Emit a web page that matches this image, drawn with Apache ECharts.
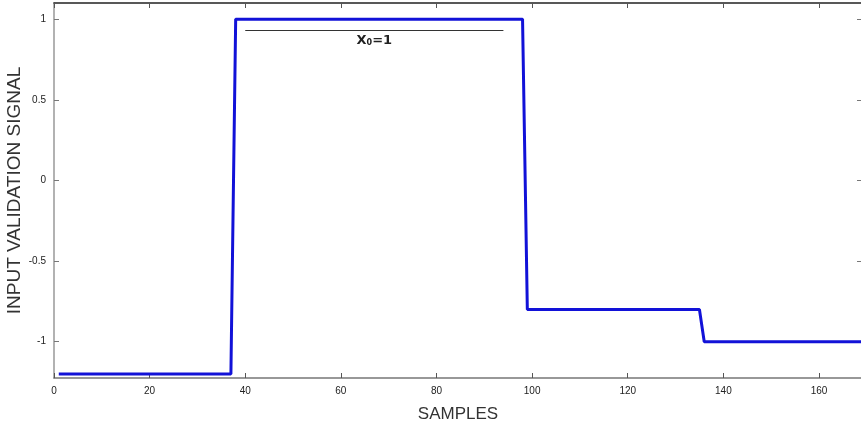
<!DOCTYPE html>
<html>
<head>
<meta charset="utf-8">
<script src="https://cdn.jsdelivr.net/npm/echarts@6/dist/echarts.min.js"></script>
<style>
  html, body { margin: 0; padding: 0; background: #fff; }
  #chart { width: 861px; height: 425px; }
</style>
</head>
<body>
<div id="chart"></div>
<script>
  // values
  var samples = [1, 37, 38, 98, 99, 135, 136, 169];
  var signal = [-1.2, -1.2, 1, 1, -0.8, -0.8, -1, -1];
  var yTicks = [-1, -0.5, 0, 0.5, 1];
  var xTicks = [0, 20, 40, 60, 80, 100, 120, 140, 160];
  var markStart = [40, 0.93];
  var markEnd = [94, 0.93];

  var points = samples.map(function (s, i) { return [s, signal[i]]; });
  var font = 'Liberation Sans, Arial, sans-serif';

  var myChart = echarts.init(document.getElementById('chart'), null, { renderer: 'canvas' });

  var option = {
    animation: false,
    grid: { left: 54, right: -1, top: 3, bottom: 47, containLabel: false, outerBoundsMode: 'none' },
    xAxis: [{
      type: 'value',
      min: 0,
      max: 169,
      name: 'SAMPLES',
      nameLocation: 'middle',
      nameGap: 28,
      nameMoveOverlap: false,
      nameTextStyle: { fontFamily: font, fontSize: 17, color: '#333', verticalAlign: 'top' },
      axisLine: { onZero: false, lineStyle: { color: '#777', width: 1.5 } },
      axisTick: { inside: true, length: 5, lineStyle: { color: '#555' }, customValues: xTicks },
      axisLabel: { customValues: xTicks, fontFamily: font, fontSize: 10, color: '#222', margin: 8 },
      splitLine: { show: false }
    }, {
      type: 'value',
      position: 'top',
      min: 0,
      max: 169,
      axisLine: { show: true, onZero: false, lineStyle: { color: '#222', width: 1.5 } },
      axisTick: { inside: true, length: 5, lineStyle: { color: '#555' }, customValues: xTicks },
      axisLabel: { show: false },
      splitLine: { show: false }
    }],
    yAxis: [{
      type: 'value',
      min: -1.225,
      max: 1.1,
      name: 'INPUT VALIDATION SIGNAL',
      nameLocation: 'middle',
      nameGap: 30,
      nameMoveOverlap: false,
      nameTextStyle: { fontFamily: font, fontSize: 19, color: '#333', verticalAlign: 'bottom' },
      axisLine: { show: true, onZero: false, lineStyle: { color: '#999', width: 1.5 } },
      axisTick: { inside: true, length: 5, lineStyle: { color: '#777' }, customValues: yTicks },
      axisLabel: { customValues: yTicks, fontFamily: font, fontSize: 10, color: '#222', margin: 8 },
      splitLine: { show: false }
    }, {
      type: 'value',
      position: 'right',
      min: -1.225,
      max: 1.1,
      axisLine: { show: true, onZero: false, lineStyle: { color: '#222', width: 1.5 } },
      axisTick: { inside: true, length: 5, lineStyle: { color: '#777' }, customValues: yTicks },
      axisLabel: { show: false },
      splitLine: { show: false }
    }],
    series: [{
      type: 'line',
      data: points,
      showSymbol: false,
      lineStyle: { color: '#1212d8', width: 3 },
      markLine: {
        silent: true,
        symbol: 'none',
        lineStyle: { color: '#333', width: 1, type: 'solid' },
        label: {
          show: true,
          position: 'insideMiddleBottom',
          distance: 3,
          formatter: '{b|X}{s|0}{b|=1}',
          rich: {
            b: { fontFamily: 'DejaVu Sans, sans-serif', fontWeight: 'bold', fontSize: 13, color: '#222' },
            s: { fontFamily: 'DejaVu Sans, sans-serif', fontWeight: 'bold', fontSize: 8, color: '#222', verticalAlign: 'bottom', padding: [6, 0, 0, 0] }
          }
        },
        data: [[{ coord: markStart }, { coord: markEnd }]]
      }
    }]
  };

  myChart.setOption(option);
</script>
</body>
</html>
